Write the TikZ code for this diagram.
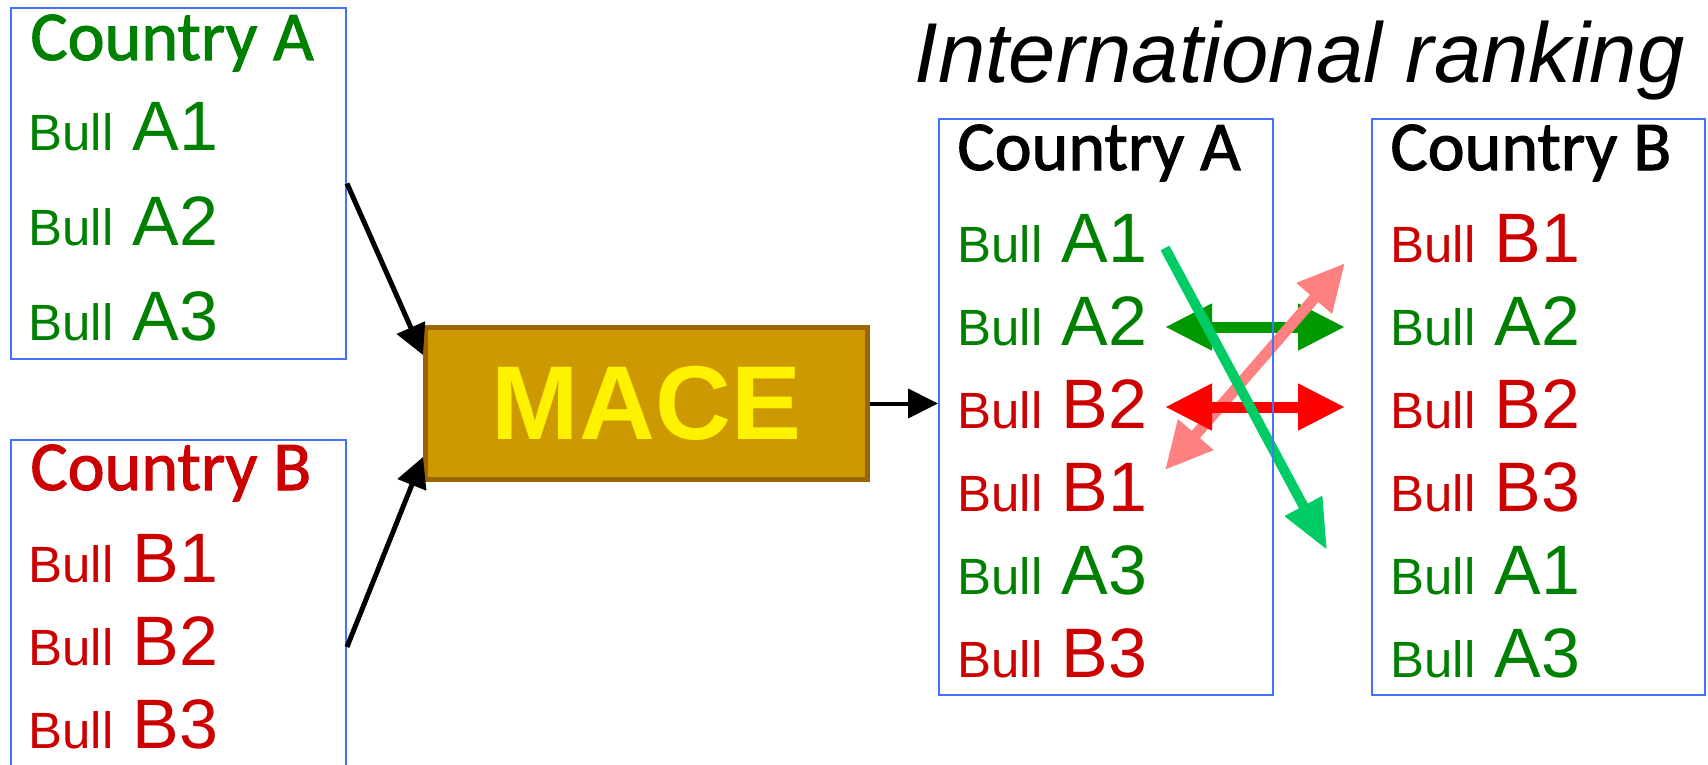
\documentclass[tikz,border=0pt]{standalone}
\usepackage{fontspec}
\setmainfont{Liberation Sans}
\newfontfamily\calfont[BoldFont=Carlito, BoldFeatures={FakeBold=1.5}]{Carlito}
\usetikzlibrary{arrows.meta,calc}
\definecolor{agreen}{RGB}{0,128,0}
\definecolor{bred}{RGB}{204,0,0}
\definecolor{boxblue}{RGB}{68,114,255}
\definecolor{macefill}{RGB}{204,153,0}
\definecolor{maceedge}{RGB}{153,102,0}
\definecolor{darkarrow}{RGB}{0,153,0}
\definecolor{lightarrow}{RGB}{0,204,102}
\definecolor{pinkarrow}{RGB}{255,128,128}
\definecolor{redarrow}{RGB}{255,0,0}
\newcommand{\bullrow}[1]{{\fontsize{25.5}{30}\selectfont Bull} #1}
\tikzset{
  box/.style={draw=boxblue, line width=1pt, inner sep=0pt},
  row/.style={anchor=base west, inner sep=0pt, font=\fontsize{35}{40}\selectfont},
  cname/.style={anchor=base west, inner sep=0pt, font=\calfont\bfseries\fontsize{35}{40}\selectfont},
  feed/.style={-{Triangle[length=15pt,width=15pt]}, line width=2.5pt},
  rankswap/.style={{Triangle[length=23.5pt,width=22pt]}-{Triangle[length=23.5pt,width=22pt]}, line width=5.5pt},
}
\begin{document}
\begin{tikzpicture}[x=0.5pt,y=-0.5pt]
  \useasboundingbox (0,0) rectangle (1708,765);
  \clip (0,0) rectangle (1708,765);
  % moves between the two rankings
  \coordinate (a2l) at (1165,327); \coordinate (a2r) at (1345,327);
  \coordinate (b2l) at (1165,407); \coordinate (b2r) at (1345,407);
  \coordinate (b1l) at (1165,470); \coordinate (b1r) at (1345,263);
  \coordinate (a1l) at (1165,248); \coordinate (a1r) at (1327,550);
  \draw[rankswap, darkarrow] (a2l) -- (a2r);
  \draw[rankswap, pinkarrow] (b1l) -- (b1r);
  \draw[rankswap, redarrow] (b2l) -- (b2r);
  \draw[-{Triangle[length=25pt,width=20pt]}, line width=5pt, lightarrow] (a1l) -- (a1r);

  \node[box, minimum width=167.5pt, minimum height=175.5pt] (lA) at (178.5,183.5) {};
  \node[box, minimum width=167.5pt, minimum height=207pt] (lB) at (178.5,647) {};
  \node[box, minimum width=167pt, minimum height=288pt] (rA) at (1106,407) {};
  \node[box, minimum width=166.5pt, minimum height=288pt] (rB) at (1538.5,407) {};
  \node[draw=maceedge, fill=macefill, line width=2.5pt, inner sep=0pt,
        minimum width=221pt, minimum height=76pt, text=yellow,
        font=\bfseries\fontsize{52.5}{60}\selectfont] (mace) at (646.5,403.5) {MACE};

  \node[anchor=base west, inner sep=0pt, font=\itshape\fontsize{42.5}{50}\selectfont] (title) at (914,83) {International ranking};

  % national lists
  \node[cname, text=agreen] (lAt) at (30,60) {Country A};
  \foreach \lab [count=\i] in {A1,A2,A3}
    \node[row, text=agreen] (lA\i) at (28,{55+95*\i}) {\bullrow{\lab}};
  \node[cname, text=bred] (lBt) at (30,490) {Country B};
  \foreach \lab [count=\i] in {B1,B2,B3}
    \node[row, text=bred] (lB\i) at (28,{499+83*\i}) {\bullrow{\lab}};

  % international lists
  \node[cname] (rAt) at (957,170) {Country A};
  \foreach \lab/\col [count=\i] in {A1/agreen,A2/agreen,B2/bred,B1/bred,A3/agreen,B3/bred}
    \node[row, text=\col] (rA\i) at (957,{179+83*\i}) {\bullrow{\lab}};
  \node[cname] (rBt) at (1390,170) {Country B};
  \foreach \lab/\col [count=\i] in {B1/bred,A2/agreen,B2/bred,B3/bred,A1/agreen,A3/agreen}
    \node[row, text=\col] (rB\i) at (1390,{179+83*\i}) {\bullrow{\lab}};

  \draw[feed] (lA.east) -- ($(mace.north west)+(0,30)$);
  \draw[feed] (lB.east) -- ($(mace.south west)+(0,-25)$);
  \draw[-{Triangle[length=15pt,width=14.5pt]}, line width=2pt] (mace.east) -- (mace.east -| rA.west);
\end{tikzpicture}
\end{document}
